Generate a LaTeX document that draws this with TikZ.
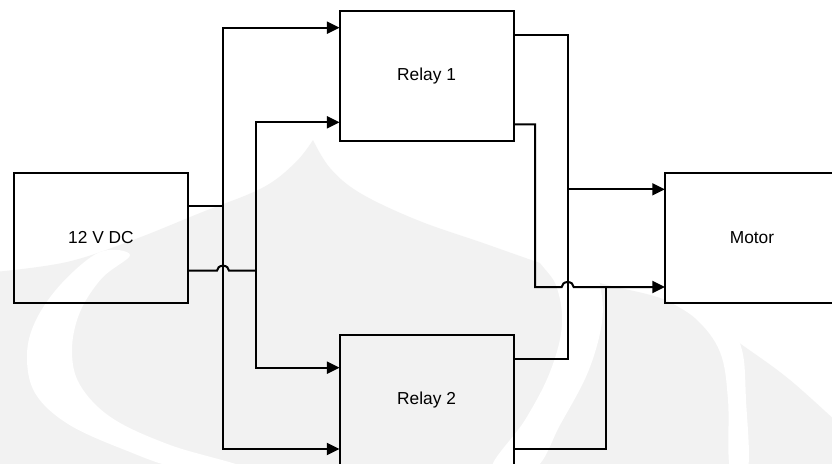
\documentclass[tikz,border=0pt]{standalone}
\usepackage{fontspec}
\setmainfont{Liberation Sans}
\usetikzlibrary{arrows.meta,calc}
\definecolor{wmgray}{RGB}{242,242,242}
\begin{document}
\begin{tikzpicture}[x=0.75pt,y=-0.75pt,
  block/.style={draw=black,line width=1.5pt,minimum width=130.6pt,
    minimum height=97.2pt,inner sep=0pt,outer sep=0pt,
    font=\fontsize{13}{15}\selectfont},
  wire/.style={line width=1.5pt,line join=miter},
  feed/.style={wire,-{Triangle[length=9.5pt,width=9pt]}},
  feedboth/.style={wire,{Triangle[length=9.5pt,width=9pt]}-{Triangle[length=9.5pt,width=9pt]}},
  hopbump/.style={}]
\useasboundingbox (0,0) rectangle (832,464);
\fill[white] (0,0) rectangle (832,464);

% faint background emblem
\begin{scope}
  \clip (0,0) rectangle (832,464);
  \fill[wmgray]
    plot[smooth,tension=0.6] coordinates {(-5,272) (67,262) (133,240) (200,213) (262,188) (295,163) (313,140)}
    -- plot[smooth,tension=0.6] coordinates {(313,140) (330,168) (360,193) (417,220) (483,243) (540,263) (600,283) (660,298) (705,320) (745,347) (790,380) (840,425)}
    -- (840,470) -- (-5,470) -- cycle;
  \fill[white] plot[smooth cycle,tension=0.6] coordinates {(100,252) (62,283) (36,320) (27,355) (35,393) (68,424) (125,450) (180,468) (245,468) (170,445) (112,418) (80,385) (72,350) (80,312) (102,278) (130,255)};
  \fill[white] plot[smooth cycle,tension=0.6] coordinates {(538,255) (556,285) (562,325) (550,372) (525,420) (492,468) (535,468) (560,425) (588,372) (602,322) (600,285) (590,262)};
  \fill[white] plot[smooth cycle,tension=0.6] coordinates {(655,292) (695,318) (720,352) (728,400) (730,468) (748,468) (746,400) (742,350) (725,320) (690,295)};
\end{scope}

% blocks
\node[block] (dc) at (101,237.8) {12 V DC};
\node[block] (r1) at (426.6,75.9) {Relay 1};
\node[block] (r2) at (426.6,400.2) {Relay 2};
\node[block] (mo) at (752,238) {Motor};

% port levels
\coordinate (lvDcHi)   at (0,205.7);
\coordinate (lvDcLo)   at (0,270.7);
\coordinate (lvR1inA)  at (0,27.7);
\coordinate (lvR1inB)  at (0,122.3);
\coordinate (lvR2inA)  at (0,367.7);
\coordinate (lvR2inB)  at (0,449);
\coordinate (lvR1outA) at (0,35);
\coordinate (lvR1outB) at (0,124.3);
\coordinate (lvR2outA) at (0,359.3);
\coordinate (lvR2outB) at (0,449);
\coordinate (lvMoA)    at (0,189.3);
\coordinate (lvMoB)    at (0,287);
% bus positions
\coordinate (bxA) at (223,0);
\coordinate (bxB) at (255.7,0);
\coordinate (bxC) at (535,0);
\coordinate (bxD) at (567.7,0);
\coordinate (bxE) at (605.7,0);

% supply to relays
\draw[wire] (dc.east |- lvDcHi) -- (bxA |- lvDcHi);
\draw[feedboth] (r1.west |- lvR1inA) -| (bxA |- lvR2inB) -- (r2.west |- lvR2inB);
\draw[wire] (dc.east |- lvDcLo) -- ($(bxA |- lvDcLo)+(-6,0)$)
  arc[start angle=180,end angle=360,x radius=6,y radius=5] -- (bxB |- lvDcLo);
\draw[feedboth] (r1.west |- lvR1inB) -| (bxB |- lvR2inA) -- (r2.west |- lvR2inA);

% relays to motor
\draw[wire] (r1.east |- lvR1outA) -| (bxD |- lvR2outA) -- (r2.east |- lvR2outA);
\draw[feed] (bxD |- lvMoA) -- (mo.west |- lvMoA);
\draw[feed] (r1.east |- lvR1outB) -| (bxC |- lvMoB) -- ($(bxD |- lvMoB)+(-6,0)$)
  arc[start angle=180,end angle=360,x radius=6,y radius=5] -- (mo.west |- lvMoB);
\draw[wire] (r2.east |- lvR2outB) -| (bxE |- lvMoB);
\end{tikzpicture}
\end{document}
